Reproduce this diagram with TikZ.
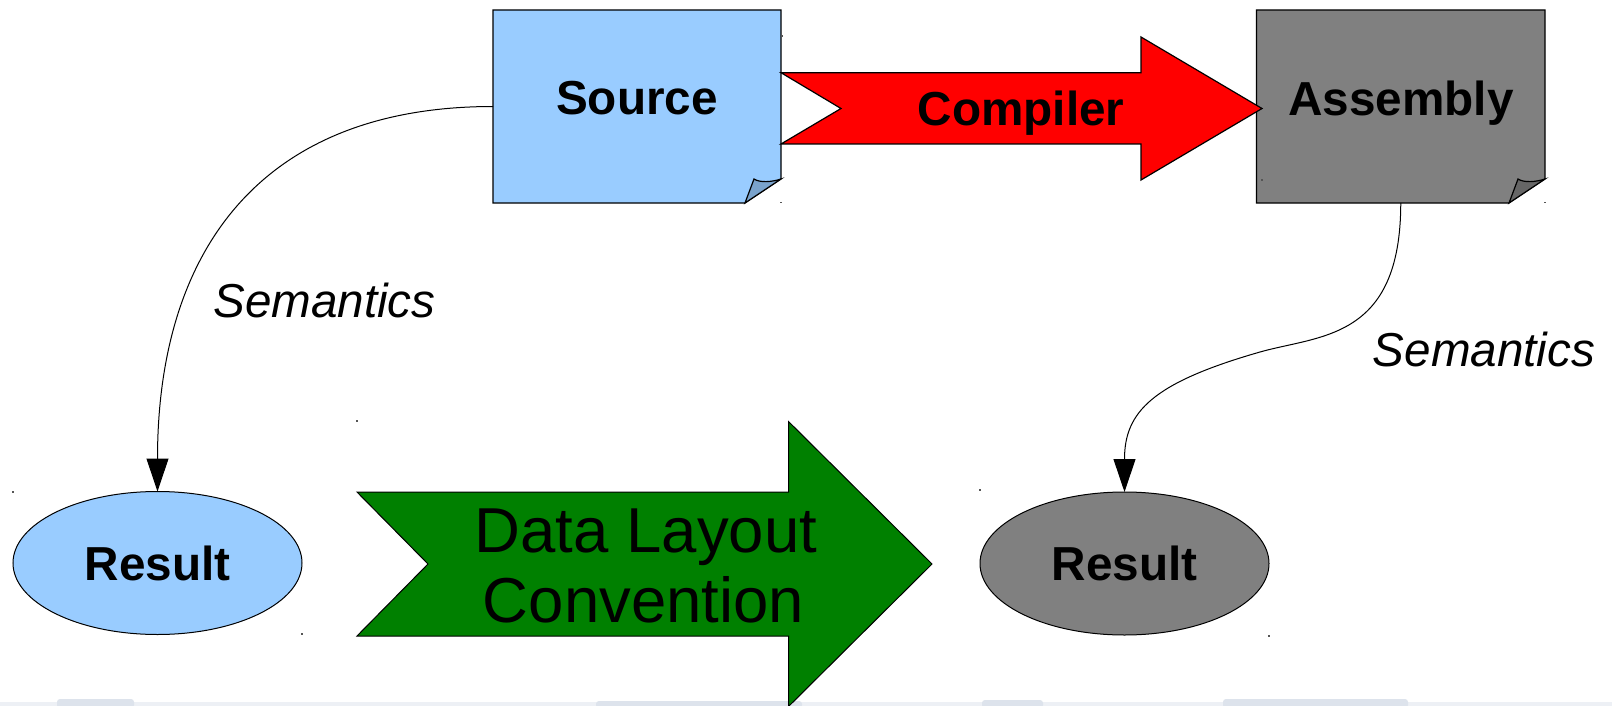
\documentclass[tikz,border=0pt]{standalone}
\usepackage{fontspec}
\setmainfont{Liberation Sans}
\usetikzlibrary{shapes.geometric,arrows.meta}
\definecolor{srcblue}{HTML}{99CCFF}
\definecolor{srcfold}{HTML}{7AA3CC}
\definecolor{asmgray}{HTML}{808080}
\definecolor{asmfold}{HTML}{666666}
\definecolor{cmpred}{HTML}{FF0000}
\definecolor{dlgreen}{HTML}{008000}
\definecolor{bandc}{HTML}{EDF0F5}
\definecolor{bandd}{HTML}{DDE3EC}
\definecolor{dotc}{HTML}{555555}
\begin{document}
\begin{tikzpicture}[x=1pt,y=-1pt,
  lbl/.style={font=\fontsize{47.7}{56}\selectfont\bfseries, anchor=base, inner sep=0},
  sem/.style={font=\fontsize{47.6}{56}\selectfont\itshape, anchor=base, inner sep=0},
  big/.style={font=\fontsize{63.5}{70}\selectfont, anchor=base, inner sep=0},
  outline/.style={draw=black, line width=1.2pt, line join=miter},
  conn/.style={draw=black, line width=1pt, -{Triangle[length=33pt,width=22pt]}},
  holder/.style={draw=none, fill=none, inner sep=0, outer sep=0},
  resultnode/.style={ellipse, draw=black, line width=1pt, inner sep=0, outer sep=0,
    minimum width=289, minimum height=143, font=\fontsize{47.7}{56}\selectfont\bfseries},
  tick/.style={fill=dotc}
]
\useasboundingbox (0,0) rectangle (1612,706);
\fill[white] (0,0) rectangle (1612,706);

% faint band at the bottom
\fill[bandc] (0,702) rectangle (1612,706);
\fill[bandd, rounded corners=3pt] (57,699) rectangle (134,708);
\fill[bandd, rounded corners=3pt] (596,701) rectangle (802,708);
\fill[bandd, rounded corners=3pt] (982,700) rectangle (1043,708);
\fill[bandd, rounded corners=3pt] (1223,699) rectangle (1408,708);

% placeholders for the note boxes
\node[holder, minimum width=288, minimum height=193] (src) at (637,106.5) {};
\node[holder, minimum width=288.5, minimum height=193] (asm) at (1400.75,106.5) {};

% Source note
\draw[outline, fill=srcblue] (493,10) -- (781,10) -- (781,179) -- (745,203) -- (493,203) -- cycle;
\draw[outline, fill=srcfold] (745,203) -- (754,179) .. controls (760,183) and (772,182) .. (781,179) -- cycle;

% Assembly note
\draw[outline, fill=asmgray] (1256.5,10) -- (1545,10) -- (1545,179) -- (1509,203) -- (1256.5,203) -- cycle;
\draw[outline, fill=asmfold] (1509,203) -- (1518,179) .. controls (1524,183) and (1536,182) .. (1545,179) -- cycle;

% Compiler arrow
\draw[outline, fill=cmpred] (781,72.7) -- (1141,72.7) -- (1141,37) -- (1262,108.5) -- (1141,180)
  -- (1141,144) -- (781,144) -- (841,108.5) -- cycle;

% Result ellipses
\node[resultnode, fill=srcblue] (res1) at (157.5,563) {Result};
\node[resultnode, fill=asmgray] (res2) at (1124.5,563.5) {Result};

% connectors
\draw[conn] (src.west) .. controls +(-233,0) and +(0,-240) .. (res1.north);
\coordinate (mid) at (1260,352);
\draw[conn] (asm.south) .. controls +(0,137) and +(60,-17) .. (mid)
  .. controls +(-108,31) and +(0,-80) .. (res2.north);

% Data layout arrow
\draw[draw=black, line width=1pt, fill=dlgreen] (357,492) -- (788.5,492) -- (788.5,421.5) -- (932,564)
  -- (788.5,706.5) -- (788.5,636) -- (357,636) -- (428,564) -- cycle;

% texts
\node[lbl] (srct) at (637,115) {Source};
\node[lbl] (cmpt) at (1021,126) {Compiler};
\node[lbl] (asmt) at (1401,116) {Assembly};
\node[sem] (sem1) at (324.5,317) {Semantics};
\node[sem] (sem2) at (1484,366) {Semantics};
\node[big] (dl1) at (646,552) {Data Layout};
\node[big] (dl2) at (643.5,622) {Convention};

% tiny bounding marks
\foreach \p in {(781,202.5),(782,36),(1262,180),(1545,202.5),(357,421),(13,492),(302,634),(980,490),(1269,636)}
  \fill[tick] \p ++(-0.8,-0.8) rectangle ++(1.6,1.6);
\end{tikzpicture}
\end{document}
